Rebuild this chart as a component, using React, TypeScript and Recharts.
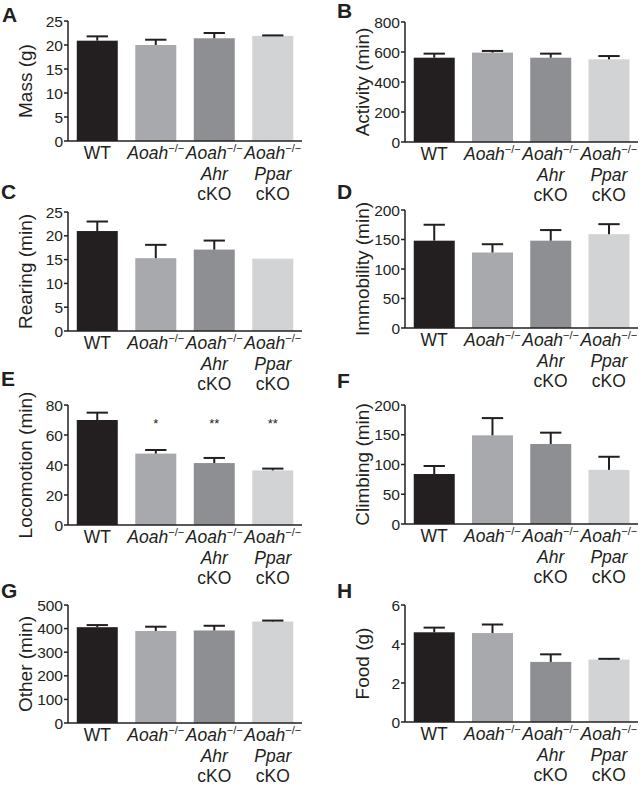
import React from 'react'
import { BarChart, Bar, XAxis, YAxis, Cell } from 'recharts'

const groups = ['WT', 'Aoah', 'AoahAhr', 'AoahPpar']
const subLabels = ['', '', 'Ahr', 'Ppar']
const barColors = ['#231f20', '#a7a9ac', '#8d8f92', '#d1d3d4']

const massMean = [20.9, 20.0, 21.4, 21.9]
const massErr = [0.9, 1.1, 1.1, 0.1]
const activityMean = [562, 596, 562, 551]
const activityErr = [27, 11, 27, 22]
const rearingMean = [21.0, 15.3, 17.1, 15.2]
const rearingErr = [2.0, 2.8, 1.9, 0]
const immobilityMean = [148, 128, 148, 159]
const immobilityErr = [27, 14, 18, 17]
const locomotionMean = [70, 47.6, 41.3, 36.4]
const locomotionErr = [4.9, 2.4, 3.4, 1.2]
const locomotionSig = ['', '*', '**', '**']
const climbingMean = [84, 149, 134.5, 91]
const climbingErr = [13.5, 29, 19, 22]
const otherMean = [406, 390, 392, 430]
const otherErr = [9, 18, 20, 4]
const foodMean = [4.6, 4.56, 3.08, 3.2]
const foodErr = [0.24, 0.44, 0.39, 0.04]

const ticks25 = [0, 5, 10, 15, 20, 25]
const ticks800 = [0, 200, 400, 600, 800]
const ticks200 = [0, 50, 100, 150, 200]
const ticks80 = [0, 20, 40, 60, 80]
const ticks500 = [0, 100, 200, 300, 400, 500]
const ticks6 = [0, 2, 4, 6]

const starLevel = 65

const INK = '#231f20'
const FONT = '"Liberation Sans", Arial, Helvetica, sans-serif'

function rows(mean: number[], err: number[], sig?: string[]) {
  return groups.map((g, i) => ({ group: g, value: mean[i], err: err[i], sig: sig ? sig[i] : '' }))
}

const panels = [
  { letter: 'A', title: 'Mass (g)', data: rows(massMean, massErr), ticks: ticks25, col: 0, top: 21, bottom: 141, lx: 2, ly: 22 },
  { letter: 'B', title: 'Activity (min)', data: rows(activityMean, activityErr), ticks: ticks800, col: 1, top: 22, bottom: 142, lx: 337, ly: 18 },
  { letter: 'C', title: 'Rearing (min)', data: rows(rearingMean, rearingErr), ticks: ticks25, col: 0, top: 212, bottom: 331, lx: 1, ly: 199 },
  { letter: 'D', title: 'Immobility (min)', data: rows(immobilityMean, immobilityErr), ticks: ticks200, col: 1, top: 210, bottom: 328, lx: 337, ly: 199 },
  { letter: 'E', title: 'Locomotion (min)', data: rows(locomotionMean, locomotionErr, locomotionSig), ticks: ticks80, col: 0, top: 405, bottom: 525, lx: 1, ly: 386 },
  { letter: 'F', title: 'Climbing (min)', data: rows(climbingMean, climbingErr), ticks: ticks200, col: 1, top: 405, bottom: 524, lx: 337, ly: 388 },
  { letter: 'G', title: 'Other (min)', data: rows(otherMean, otherErr), ticks: ticks500, col: 0, top: 605, bottom: 723, lx: 1, ly: 598 },
  { letter: 'H', title: 'Food (g)', data: rows(foodMean, foodErr), ticks: ticks6, col: 1, top: 605, bottom: 722, lx: 337, ly: 598 },
]

// bar plus a one-sided (upper) error bar, scaled from the bar's own pixel height
function BarWithError(props: any) {
  const { x, y, width, height, fill, payload } = props
  const ppu = payload.value ? height / payload.value : 0
  const cx = x + width / 2
  const errTop = y - payload.err * ppu
  const capHalf = width * 0.26
  return (
    <g>
      <rect x={x} y={y} width={width} height={height} fill={fill} />
      {payload.err > 0 && (
        <g stroke={INK} strokeWidth={2}>
          <line x1={cx} y1={y} x2={cx} y2={errTop} />
          <line x1={cx - capHalf} y1={errTop} x2={cx + capHalf} y2={errTop} />
        </g>
      )}
      {payload.sig && (
        <text x={cx} y={y + height - starLevel * ppu} textAnchor="middle" fontSize={13} fill={INK} fontFamily={FONT}>
          {payload.sig}
        </text>
      )}
    </g>
  )
}

function GroupTick(props: any) {
  const { x, y, payload } = props
  const i = groups.indexOf(payload.value)
  const fs = 17.5
  return (
    <g transform={`translate(${x},${y})`} fontFamily={FONT} fill={INK}>
      {i === 0 ? (
        <text x={0} y={18} textAnchor="middle" fontSize={fs} fill={INK}>WT</text>
      ) : (
        <text x={0} y={18} textAnchor="middle" fontSize={fs} fill={INK}>
          <tspan fontStyle="italic">Aoah</tspan>
          <tspan fontSize={11} dy={-7}>−/−</tspan>
        </text>
      )}
      {subLabels[i] && (
        <>
          <text x={0} y={39} textAnchor="middle" fontSize={fs} fontStyle="italic" fill={INK}>{subLabels[i]}</text>
          <text x={0} y={59} textAnchor="middle" fontSize={fs} fill={INK}>cKO</text>
        </>
      )}
    </g>
  )
}

function Panel({ p }: { p: (typeof panels)[number] }) {
  const padTop = 12
  const axisH = 64
  const plotH = p.bottom - p.top
  const left = p.col === 0 ? 0 : 320
  const yAxisW = p.col === 0 ? 68 : 85
  const right = p.col === 0 ? 18 : 2
  const max = p.ticks[p.ticks.length - 1]
  return (
    <div style={{ position: 'absolute', left, top: p.top - padTop }}>
      <BarChart
        width={320}
        height={padTop + plotH + axisH}
        data={p.data}
        margin={{ top: padTop, right, bottom: 0, left: 0 }}
        barCategoryGap="15%"
      >
        <XAxis
          dataKey="group"
          axisLine={{ stroke: INK, strokeWidth: 1.5 }}
          tickLine={false}
          tickSize={0}
          tickMargin={0}
          interval={0}
          height={axisH}
          tick={<GroupTick />}
        />
        <YAxis
          width={yAxisW}
          domain={[0, max]}
          ticks={p.ticks}
          interval={0}
          axisLine={{ stroke: INK, strokeWidth: 1.5 }}
          tickLine={{ stroke: INK, strokeWidth: 1.5 }}
          tickSize={4}
          tickMargin={1}
          tick={{ fill: INK, fontSize: 15.5, fontFamily: FONT }}
          label={(lp: any) => {
            const vb = lp.viewBox || {}
            const cx = vb.x + vb.width - 43
            const cy = vb.y + vb.height / 2
            return (
              <text
                x={cx}
                y={cy}
                transform={`rotate(-90 ${cx} ${cy})`}
                textAnchor="middle"
                dominantBaseline="central"
                fontSize={19}
                fill={INK}
                fontFamily={FONT}
              >
                {p.title}
              </text>
            )
          }}
        />
        <Bar dataKey="value" isAnimationActive={false} shape={<BarWithError />}>
          {p.data.map((d, i) => (
            <Cell key={d.group} fill={barColors[i]} />
          ))}
        </Bar>
      </BarChart>
    </div>
  )
}

export default function App() {
  return (
    <div style={{ position: 'absolute', left: 0, top: 0, width: 640, height: 792, background: '#fff', fontFamily: FONT }}>
      {panels.map((p) => (
        <Panel key={p.letter} p={p} />
      ))}
      <svg width={640} height={792} style={{ position: 'absolute', left: 0, top: 0, pointerEvents: 'none' }}>
        {panels.map((p) => (
          <text key={p.letter} x={p.lx} y={p.ly} fontSize={21} fontWeight="bold" fill={INK} fontFamily={FONT}>
            {p.letter}
          </text>
        ))}
      </svg>
    </div>
  )
}
